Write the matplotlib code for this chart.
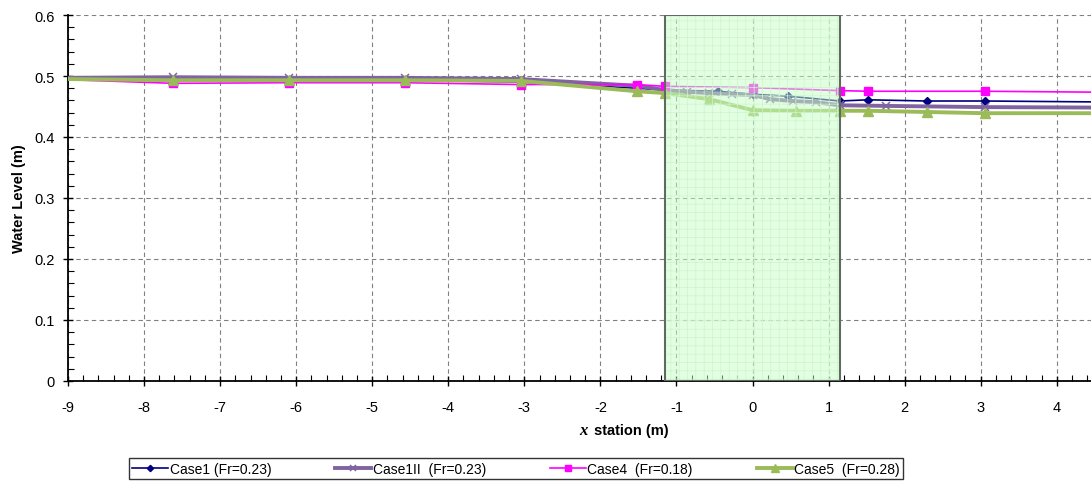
import matplotlib
matplotlib.use('Agg')
import matplotlib.pyplot as plt
from matplotlib.patches import Rectangle
from matplotlib.ticker import MultipleLocator

plt.rcParams['font.family'] = ['Liberation Sans', 'DejaVu Sans']
plt.rcParams['hatch.linewidth'] = 0.5
plt.rcParams['axes.unicode_minus'] = False

# data (x station in m, water level in m)
x_case1 = [-9.0, -7.62, -6.10, -4.57, -3.05, -1.52, -1.15, -0.46, 0.0, 0.46, 1.15, 1.52, 2.29, 3.05, 5.0]
y_case1 = [0.494, 0.493, 0.493, 0.493, 0.490, 0.480, 0.477, 0.475, 0.470, 0.467, 0.459, 0.461, 0.459, 0.459, 0.457]

x_case1ii = [-9.0, -7.62, -6.10, -4.57, -3.05, -1.52, -1.15, -0.86, -0.57, -0.27, 0.0, 0.23, 0.53, 0.84, 1.15, 1.75, 3.05, 5.0]
y_case1ii = [0.497, 0.498, 0.497, 0.497, 0.495, 0.484, 0.477, 0.474, 0.472, 0.470, 0.469, 0.462, 0.459, 0.457, 0.452, 0.451, 0.449, 0.448]

x_case4 = [-9.0, -7.62, -6.10, -4.57, -3.05, -1.52, -1.15, 0.0, 1.15, 1.52, 3.05, 5.0]
y_case4 = [0.494, 0.488, 0.489, 0.489, 0.486, 0.486, 0.483, 0.481, 0.476, 0.475, 0.475, 0.473]

x_case5 = [-9.0, -7.62, -6.10, -4.57, -3.05, -1.52, -1.15, -0.57, 0.0, 0.57, 1.15, 1.52, 2.29, 3.05, 5.0]
y_case5 = [0.495, 0.493, 0.493, 0.493, 0.492, 0.475, 0.472, 0.462, 0.444, 0.443, 0.443, 0.443, 0.441, 0.439, 0.439]

labels = ['Case1 (Fr=0.23)', 'Case1II  (Fr=0.23)', 'Case4  (Fr=0.18)', 'Case5  (Fr=0.28)']

fig = plt.figure(figsize=(10.91, 4.85), dpi=100)
ax = fig.add_axes([0.0623, 0.2124, 0.9377, 0.7546])

skip = slice(1, None)
ax.plot(x_case1, y_case1, color='#000080', lw=1.2, marker='D', ms=4, markevery=skip, label=labels[0], zorder=2)
ax.plot(x_case1ii, y_case1ii, color='#8064a2', lw=2.8, marker='x', ms=6, mew=1.1, markevery=skip, label=labels[1], zorder=3)
ax.plot(x_case4, y_case4, color='#ff00ff', lw=1.2, marker='s', ms=5.5, markevery=skip, label=labels[2], zorder=4)
ax.plot(x_case5, y_case5, color='#9bbb59', lw=2.8, marker='^', ms=6.5, markevery=skip, label=labels[3], zorder=5)

# vegetated zone
ax.add_patch(Rectangle((-1.15, 0), 2.3, 0.6, facecolor=(0.78, 1.0, 0.78, 0.5),
                       edgecolor='#cdf4cd', hatch='++', lw=0, zorder=6))
ax.add_patch(Rectangle((-1.15, 0), 2.3, 0.6, fill=False, edgecolor='#5f6b5f', lw=1.5, zorder=7))

ax.set_xlim(-9, 4.45)
ax.set_ylim(0, 0.6)
ax.xaxis.set_major_locator(MultipleLocator(1))
ax.xaxis.set_minor_locator(MultipleLocator(0.2))
ax.yaxis.set_minor_locator(MultipleLocator(0.02))
ax.set_yticks([0, 0.1, 0.2, 0.3, 0.4, 0.5, 0.6])
ax.set_yticklabels(['0', '0.1', '0.2', '0.3', '0.4', '0.5', '0.6'])
ax.tick_params(which='major', direction='inout', length=7, width=1, labelsize=10.5, pad=6)
ax.tick_params(which='minor', direction='in', length=4, width=0.8)
ax.tick_params(axis='x', pad=10)

ax.grid(True, which='major', color='#808080', ls=(0, (4, 3)), lw=0.8)
ax.spines['top'].set_visible(False)
ax.spines['right'].set_visible(False)
ax.spines['left'].set_linewidth(1.3)
ax.spines['bottom'].set_linewidth(1.3)

ax.set_ylabel('Water Level (m)', fontsize=10.5, fontweight='bold', labelpad=6)
fig.text(0.5385, 0.112, 'x', fontsize=12, fontweight='bold', fontstyle='italic',
         family='Liberation Serif', ha='right', va='center')
fig.text(0.544, 0.112, 'station (m)', fontsize=10.5, fontweight='bold', ha='left', va='center')

leg = fig.legend(loc='center', bbox_to_anchor=(0.473, 0.031), ncol=4, frameon=True,
                 fancybox=False, edgecolor='black', fontsize=10, handlelength=2.6,
                 columnspacing=4.6, handletextpad=0.1, borderpad=0.25, markerscale=0.8,
                 borderaxespad=0)
leg.get_frame().set_linewidth(1.0)

fig.savefig('out.png', dpi=100)
